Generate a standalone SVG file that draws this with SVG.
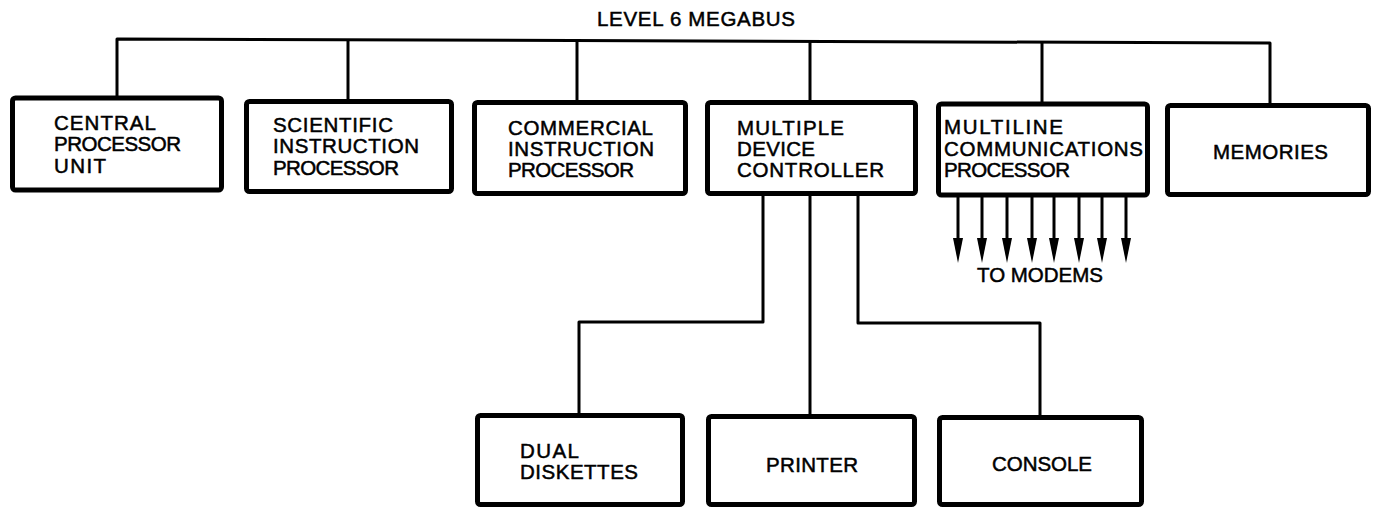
<svg xmlns="http://www.w3.org/2000/svg" width="1373" height="508" viewBox="0 0 1373 508">
<style>
.box{fill:#fff;stroke:#000;stroke-width:5;}
.wire{fill:none;stroke:#000;stroke-width:3;stroke-linejoin:round;}
.t{font-family:"Liberation Sans",Arial,sans-serif;font-size:20.5px;fill:#000;stroke:#000;stroke-width:0.5;}
</style>
<rect width="1373" height="508" fill="#fff"/>
<text class="t" x="597" y="26" textLength="198" lengthAdjust="spacing">LEVEL 6 MEGABUS</text>
<g id="connectors">
<path class="wire" d="M117,97 L117,39 L1270,43 L1270,103"/>
<path class="wire" d="M348,40 L348,99"/>
<path class="wire" d="M577,40.6 L577,100"/>
<path class="wire" d="M810,41.4 L810,100"/>
<path class="wire" d="M1042,42.2 L1042,102"/>
<path class="wire" d="M763,195 V322 H579 V413"/>
<path class="wire" d="M810,195 V414"/>
<path class="wire" d="M858,195 V323 H1040 V415"/>
<g id="modem-lines">
<path class="wire" d="M958,197 V238"/><path d="M953,238 H963 L958,263 Z"/>
<path class="wire" d="M982,197 V238"/><path d="M977,238 H987 L982,263 Z"/>
<path class="wire" d="M1007,197 V238"/><path d="M1002,238 H1012 L1007,263 Z"/>
<path class="wire" d="M1032,197 V238"/><path d="M1027,238 H1037 L1032,263 Z"/>
<path class="wire" d="M1054,197 V238"/><path d="M1049,238 H1059 L1054,263 Z"/>
<path class="wire" d="M1079,197 V238"/><path d="M1074,238 H1084 L1079,263 Z"/>
<path class="wire" d="M1102,197 V238"/><path d="M1097,238 H1107 L1102,263 Z"/>
<path class="wire" d="M1126,197 V238"/><path d="M1121,238 H1131 L1126,263 Z"/>
</g>
<text class="t" x="977" y="282" textLength="126" lengthAdjust="spacing">TO MODEMS</text>
</g>
<g id="cpu">
<rect class="box" x="12.5" y="98" width="209" height="92" rx="3"/>
<text class="t" x="54" y="130" textLength="102" lengthAdjust="spacing">CENTRAL</text>
<text class="t" x="54" y="151" textLength="127" lengthAdjust="spacing">PROCESSOR</text>
<text class="t" x="54" y="173" textLength="52" lengthAdjust="spacing">UNIT</text>
</g>
<g id="sip">
<rect class="box" x="246.5" y="101.5" width="205" height="90" rx="3"/>
<text class="t" x="273" y="132" textLength="120" lengthAdjust="spacing">SCIENTIFIC</text>
<text class="t" x="273" y="153" textLength="146" lengthAdjust="spacing">INSTRUCTION</text>
<text class="t" x="273" y="175" textLength="126" lengthAdjust="spacing">PROCESSOR</text>
</g>
<g id="cip">
<rect class="box" x="474.5" y="102.5" width="211" height="91" rx="3"/>
<text class="t" x="508" y="135" textLength="145" lengthAdjust="spacing">COMMERCIAL</text>
<text class="t" x="508" y="156" textLength="146" lengthAdjust="spacing">INSTRUCTION</text>
<text class="t" x="508" y="177" textLength="126" lengthAdjust="spacing">PROCESSOR</text>
</g>
<g id="mdc">
<rect class="box" x="707.5" y="102.5" width="208" height="91" rx="3"/>
<text class="t" x="737" y="135" textLength="107" lengthAdjust="spacing">MULTIPLE</text>
<text class="t" x="737" y="156" textLength="78" lengthAdjust="spacing">DEVICE</text>
<text class="t" x="737" y="177" textLength="147" lengthAdjust="spacing">CONTROLLER</text>
</g>
<g id="mcp">
<rect class="box" x="938.5" y="104" width="209" height="91" rx="3"/>
<text class="t" x="944" y="134" textLength="119" lengthAdjust="spacing">MULTILINE</text>
<text class="t" x="944" y="156" textLength="199" lengthAdjust="spacing">COMMUNICATIONS</text>
<text class="t" x="944" y="177" textLength="126" lengthAdjust="spacing">PROCESSOR</text>
</g>
<g id="memories">
<rect class="box" x="1167.5" y="105.5" width="201" height="89" rx="3"/>
<text class="t" x="1213" y="159" textLength="115" lengthAdjust="spacing">MEMORIES</text>
</g>
<g id="dual-diskettes">
<rect class="box" x="477.5" y="415.5" width="205" height="89" rx="3"/>
<text class="t" x="520" y="458" textLength="59" lengthAdjust="spacing">DUAL</text>
<text class="t" x="520" y="479" textLength="118" lengthAdjust="spacing">DISKETTES</text>
</g>
<g id="printer">
<rect class="box" x="708.5" y="416.5" width="206" height="88" rx="3"/>
<text class="t" x="766" y="472" textLength="92" lengthAdjust="spacing">PRINTER</text>
</g>
<g id="console">
<rect class="box" x="939.5" y="417.5" width="202" height="87" rx="3"/>
<text class="t" x="992" y="471" textLength="100" lengthAdjust="spacing">CONSOLE</text>
</g>
</svg>
